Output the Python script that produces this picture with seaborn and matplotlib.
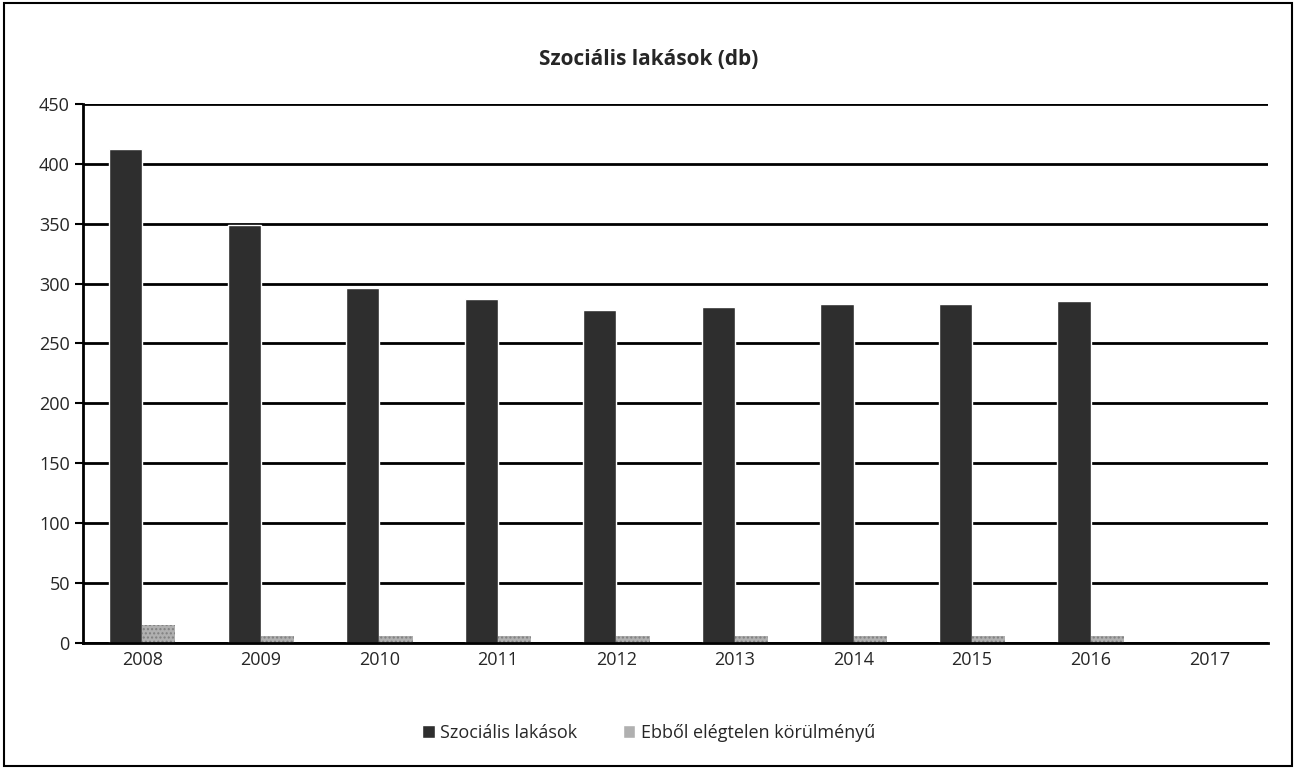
import pandas as pd
import numpy as np
import matplotlib
matplotlib.use("Agg")
import matplotlib.pyplot as plt
import seaborn as sns
from matplotlib.patches import Rectangle

years = ["2008", "2009", "2010", "2011", "2012", "2013", "2014", "2015", "2016", "2017"]
szocialis = [412, 349, 296, 287, 278, 280, 283, 283, 285, 0]
elegtelen = [15, 6, 6, 6, 6, 6, 6, 6, 6, 0]
series_names = ["Szociális lakások", "Ebből elégtelen körülményű"]

df = pd.DataFrame({"Év": years * 2,
                   "Érték": szocialis + elegtelen,
                   "Sorozat": [series_names[0]] * len(years) + [series_names[1]] * len(years)})

sns.set_style("white")
plt.rcParams["font.family"] = ["Open Sans", "DejaVu Sans"]

fig = plt.figure(figsize=(12.97, 7.69), dpi=100)
ax = fig.add_axes([0.064, 0.164, 0.914, 0.701])

sns.barplot(data=df, x="Év", y="Érték", hue="Sorozat", ax=ax,
            palette=["#2e2e2e", "#b0b0b0"], width=0.56, saturation=1, legend=True)
for bar in ax.patches[len(years):2 * len(years)]:
    bar.set_hatch("....")
    bar.set_edgecolor("#808080")
    bar.set_linewidth(0)

ax.set_ylim(0, 450)
ax.set_xlim(-0.5, len(years) - 0.5)
ax.set_yticks(range(0, 451, 50))
ax.yaxis.grid(True, color="black", linewidth=2)
ax.set_axisbelow(True)
ax.set_xlabel("")
ax.set_ylabel("")
for side in ["top", "right"]:
    ax.spines[side].set_visible(False)
ax.spines["left"].set_linewidth(2)
ax.spines["bottom"].set_linewidth(2)
ax.spines["left"].set_color("black")
ax.spines["bottom"].set_color("black")

# excel-like ticks between categories
ax.set_xticks(np.arange(-0.5, len(years)), minor=True)
ax.tick_params(axis="x", which="minor", length=8, width=1.5, direction="out", color="black")
ax.tick_params(axis="x", which="major", length=0, labelsize=13, pad=6)
ax.tick_params(axis="y", length=6, width=1.5, direction="out", color="black", labelsize=13)
ax.tick_params(left=True)

ax.legend(loc="center", bbox_to_anchor=(0.5, 0.047), bbox_transform=fig.transFigure,
          ncol=2, frameon=False, fontsize=13, handlelength=0.7, handleheight=0.7,
          handletextpad=0.3, columnspacing=2.5)

fig.text(0.5, 0.922, "Szociális lakások (db)", ha="center", va="center",
         fontsize=15, fontweight="bold")
fig.patches.append(Rectangle((0.003, 0.004), 0.993, 0.992, transform=fig.transFigure,
                             fill=False, edgecolor="black", linewidth=1.5))

plt.savefig("out.png", dpi=100)
